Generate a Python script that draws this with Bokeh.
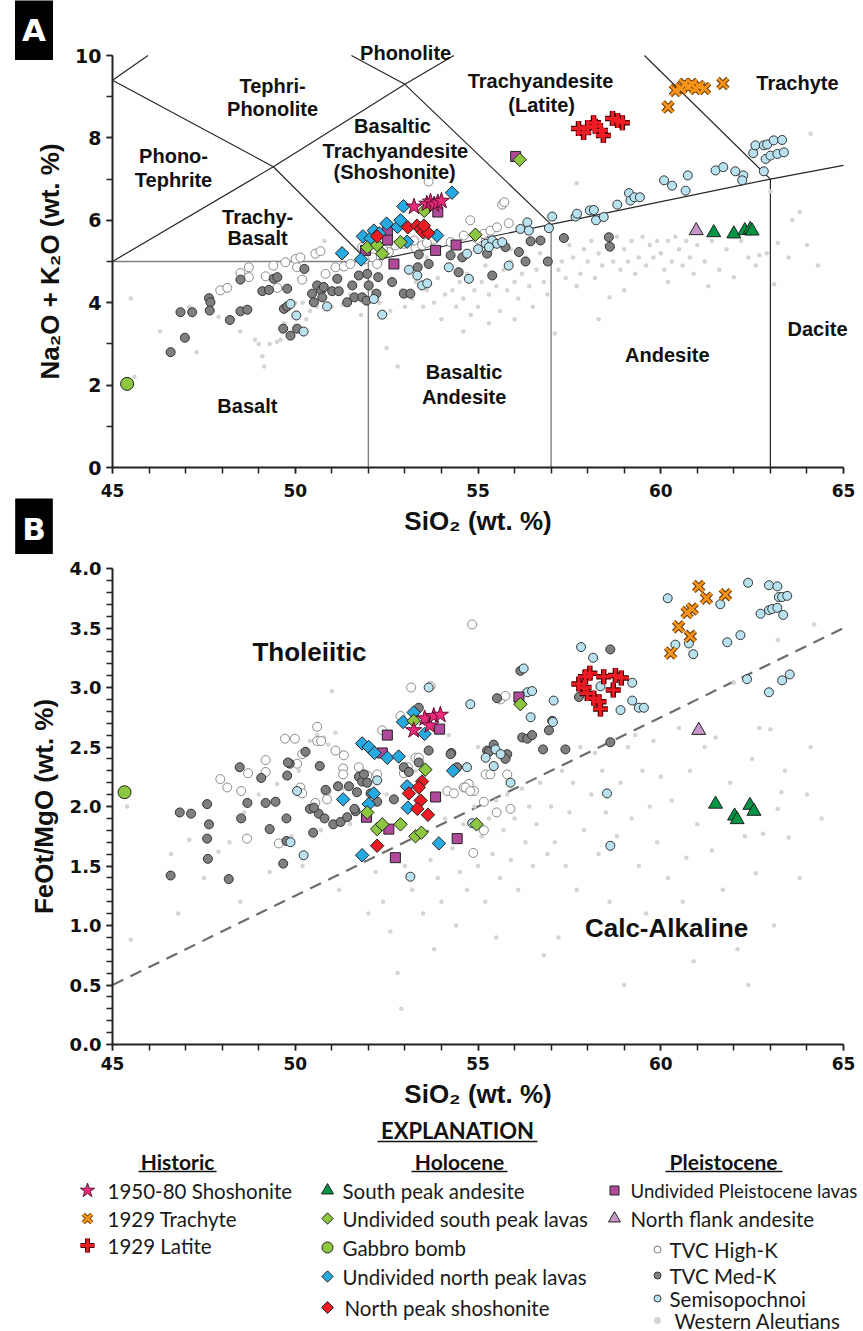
import numpy as np
from bokeh.plotting import figure
from bokeh.models import Range1d, SingleIntervalTicker, PrintfTickFormatter, Label
from bokeh.layouts import column
from bokeh.embed import file_html
from bokeh.resources import INLINE
from bokeh.core.properties import value

# ---------------------------------------------------------------
# Panel A data: SiO2 (wt. %) vs Na2O + K2O (wt. %)
# ---------------------------------------------------------------
tas_shosh_si = [53.25, 53.6, 53.7, 53.8, 53.9, 54.0]
tas_shosh_alk = [6.33, 6.40, 6.45, 6.38, 6.43, 6.47]

tas_trach_si = [60.2, 60.4, 60.55, 60.65, 60.75, 60.85, 60.95, 61.05, 61.2, 61.7]
tas_trach_alk = [8.75, 9.15, 9.2, 9.3, 9.25, 9.3, 9.2, 9.25, 9.2, 9.32]

tas_lat_si = [57.75, 57.89, 58.0, 58.16, 58.21, 58.35, 58.43, 58.68, 58.82, 58.95]
tas_lat_alk = [8.23, 8.13, 8.25, 8.37, 8.28, 8.18, 8.06, 8.47, 8.42, 8.37]

tas_spa_si = [61.45, 62.0, 62.3, 62.45, 62.5]
tas_spa_alk = [5.70, 5.67, 5.75, 5.78, 5.74]

tas_sp_si = [51.97, 52.24, 52.38, 52.88, 53.53, 54.93, 56.14]
tas_sp_alk = [5.34, 5.40, 5.19, 5.47, 6.23, 5.65, 7.47]

tas_gab_si = [45.4]
tas_gab_alk = [2.03]

tas_np_si = [51.28, 51.8, 51.85, 52.06, 52.15, 52.5, 52.8, 52.96, 53.06, 53.88, 54.29, 52.3, 52.88]
tas_np_alk = [5.20, 5.05, 5.61, 5.56, 5.75, 5.92, 5.84, 6.34, 5.48, 5.63, 6.67, 5.68, 6.00]

tas_nps_si = [52.24, 53.08, 53.33, 53.43, 53.50, 53.64, 53.52]
tas_nps_alk = [5.61, 5.83, 5.87, 5.79, 5.71, 5.69, 5.87]

tas_pl_si = [51.92, 52.52, 52.52, 52.70, 53.84, 54.40, 53.90, 56.03]
tas_pl_alk = [5.27, 5.73, 5.52, 4.94, 5.27, 5.40, 6.20, 7.55]

tas_nfa_si = [60.97]
tas_nfa_alk = [5.75]

tas_hik_si = [47.95, 48.14, 48.50, 48.73, 48.73, 49.19, 49.51, 49.73, 50.01, 50.05, 50.19, 50.55,
              50.69, 50.83, 51.10, 51.33, 51.51, 51.83, 52.11, 52.24, 52.56, 52.74, 52.97, 53.29,
              53.47, 53.65, 53.25, 53.79, 54.25, 54.61, 54.79, 54.98, 55.16, 55.34, 55.52, 55.66,
              55.72, 55.84, 50.14, 49.40, 51.90, 52.40, 53.60]
tas_hik_alk = [4.30, 4.36, 4.72, 4.86, 4.62, 4.64, 4.36, 4.98, 5.06, 4.86, 4.56, 5.19,
               5.25, 4.70, 4.86, 4.88, 4.94, 5.35, 5.10, 4.94, 5.23, 5.39, 5.43, 5.33,
               5.39, 6.94, 5.51, 5.53, 5.47, 5.63, 6.00, 5.55, 5.67, 5.75, 5.83, 6.38,
               6.44, 5.93, 5.10, 4.90, 5.05, 5.30, 5.45]

tas_medk_si = [46.59, 46.86, 46.98, 47.18, 47.64, 47.68, 47.66, 48.21, 48.50, 48.69, 48.50, 49.10,
               49.28, 49.41, 49.51, 49.67, 49.69, 49.78, 49.78, 49.87, 50.05, 50.25, 50.46, 50.51,
               50.60, 50.71, 50.74, 50.78, 51.01, 51.15, 51.19, 51.42, 51.56, 51.62, 51.74, 51.83,
               51.95, 51.97, 52.01, 52.22, 52.27, 52.65, 52.97, 53.15, 53.35, 53.38, 53.65, 54.25,
               54.47, 54.57, 55.25, 55.39, 55.75, 56.12, 56.30, 56.44, 56.71, 56.91, 57.35, 58.58,
               58.61]
tas_medk_alk = [2.80, 3.77, 3.15, 3.77, 4.11, 4.01, 3.81, 3.58, 3.79, 3.83, 4.56, 4.28,
                4.31, 4.58, 4.62, 3.37, 3.85, 3.91, 4.34, 3.20, 3.37, 4.82, 4.22, 4.01,
                4.42, 4.30, 4.13, 4.38, 4.28, 4.58, 4.28, 4.01, 4.42, 4.13, 4.66, 4.13,
                4.05, 4.70, 4.42, 4.22, 4.62, 4.50, 4.22, 4.22, 4.86, 5.17, 4.94, 5.15,
                4.74, 5.10, 5.19, 4.66, 5.35, 5.23, 5.00, 5.49, 5.51, 5.00, 5.57, 5.59,
                5.36]

tas_semi_si = [49.87, 50.03, 50.23, 50.87, 52.15, 52.38, 53.11, 53.34, 53.47, 53.61, 54.20, 54.70,
               54.75, 55.21, 55.39, 55.52, 55.66, 55.84, 56.16, 56.35, 56.39, 56.94, 57.03, 57.67,
               57.71, 58.06, 58.17, 58.23, 58.44, 58.81, 59.13, 59.17, 59.28, 59.43, 60.09, 60.31,
               60.68, 60.74, 61.50, 61.71, 62.04, 62.26, 62.23, 62.82, 62.53, 62.59, 62.82, 62.91,
               63.09, 63.32, 62.87, 63.00, 63.19, 63.37, 55.00, 55.30]
tas_semi_alk = [3.97, 3.69, 3.30, 3.91, 4.09, 3.71, 4.80, 4.66, 4.42, 4.47, 4.86, 5.19,
                4.58, 5.43, 5.51, 5.43, 5.47, 4.90, 5.79, 5.95, 5.75, 5.81, 6.09, 6.09,
                6.16, 6.24, 6.25, 6.00, 6.08, 6.38, 6.66, 6.48, 6.56, 6.56, 6.97, 6.84,
                6.72, 7.09, 7.21, 7.29, 7.19, 7.09, 6.97, 7.19, 7.63, 7.82, 7.82, 7.84,
                7.94, 7.95, 7.49, 7.57, 7.61, 7.65, 5.30, 5.35]

tas_wa_si = [45.5, 45.6, 46.3, 47.1, 47.3, 47.9, 48.5, 48.9, 49.0, 49.1, 49.15, 49.3, 49.5, 49.6,
             49.9, 50.0, 50.2, 50.4, 50.6, 50.7, 50.85, 51.0, 51.3, 51.5, 51.7, 50.8, 49.7, 50.3,
             51.8, 51.1,
             52.1, 52.3, 52.5, 52.8, 52.6, 52.9, 53.0, 53.2, 53.3, 53.5, 53.6, 53.8, 53.9, 54.0,
             54.1, 54.2, 54.3, 54.4, 54.5, 54.6, 54.7, 54.8, 54.9, 55.0, 55.1, 55.2, 55.3, 55.4,
             55.5, 55.6, 55.7, 55.8, 55.9, 56.0, 56.1, 56.2, 56.3, 56.4, 56.5, 56.6, 56.7, 56.8,
             56.9, 55.3, 54.6, 56.0, 53.6, 55.9,
             57.1, 57.2, 57.3, 57.4, 57.5, 57.6, 57.7, 57.8, 57.9, 58.0, 58.1, 58.2, 58.3, 58.4,
             58.5, 58.6, 58.7, 58.8, 58.9, 59.0, 59.1, 59.2, 59.3, 59.4, 59.5, 59.6, 59.7, 59.8,
             59.9, 60.0, 60.1, 60.2, 60.3, 60.4, 60.5, 60.6, 60.7, 60.8, 60.9, 61.0, 61.2, 61.4,
             61.6, 61.8, 62.0, 62.2, 62.4, 62.6, 62.7, 62.9, 57.7, 58.3, 59.0, 60.2, 61.3,
             63.2, 63.6, 63.8, 64.0, 64.1, 63.1, 63.0, 64.3, 63.5]
tas_wa_alk = [4.1, 2.2, 3.3, 3.9, 2.8, 3.65, 3.3, 3.1, 3.0, 2.7, 2.45, 3.0, 3.05, 3.1,
              4.05, 4.0, 4.0, 3.8, 3.9, 4.1, 4.4, 3.9, 3.95, 4.2, 4.1, 5.5, 3.5, 3.6,
              3.7, 4.6,
              4.3, 4.0, 2.9, 2.45, 3.8, 4.3, 3.9, 4.1, 4.5, 3.9, 4.3, 4.0, 4.6, 3.6,
              4.2, 4.8, 4.3, 3.9, 4.5, 4.1, 4.7, 3.7, 4.3, 3.9, 4.5, 4.9, 4.2, 4.6,
              4.4, 3.8, 4.8, 4.3, 5.0, 4.5, 4.1, 4.7, 5.1, 4.4, 3.9, 4.8, 5.2, 4.5,
              4.2, 3.5, 3.3, 3.6, 5.1, 5.3,
              3.25, 4.8, 5.0, 4.6, 5.4, 5.1, 6.9, 4.7, 5.3, 5.0, 5.5, 4.6, 5.2, 4.9,
              5.4, 4.13, 5.0, 5.6, 4.8, 5.3, 5.0, 5.5, 4.7, 5.1, 5.6, 4.9, 5.4, 5.1,
              5.5, 5.2, 4.8, 5.5, 5.0, 5.6, 5.3, 4.9, 5.5, 5.1, 4.7, 5.4, 5.0, 5.5,
              4.8, 5.3, 4.62, 5.5, 5.1, 4.9, 5.15, 5.2, 4.4, 3.6, 4.3, 4.5, 4.4,
              5.45, 6.0, 6.2, 5.4, 8.1, 4.45, 6.7, 4.9, 5.1]

# TAS field boundaries (Le Bas et al., 1986)
tas_dark_lines = [
    ([45.0, 49.4, 52.0], [9.4, 7.3, 5.0]),
    ([45.0, 48.4], [9.4, 11.5]),
    ([45.0, 49.4, 53.0, 57.6], [5.0, 7.3, 9.3, 11.7]),
    ([48.4, 53.0, 57.0], [11.5, 9.3, 5.9]),
    ([52.5, 57.6, 63.0], [14.0, 11.7, 7.0]),
    ([52.0, 57.0, 63.0, 69.0], [5.0, 5.9, 7.0, 8.0]),
    ([63.0, 63.0], [0.0, 7.0]),
]
tas_grey_lines = [
    ([45.0, 52.0], [5.0, 5.0]),
    ([52.0, 52.0], [0.0, 5.0]),
    ([57.0, 57.0], [0.0, 5.9]),
]

tas_field_names = ["Phonolite", "Tephri-", "Phonolite", "Phono-", "Tephrite", "Trachy-", "Basalt",
                   "Basalt", "Basaltic", "Trachyandesite", "(Shoshonite)", "Trachyandesite",
                   "(Latite)", "Trachyte", "Dacite", "Andesite", "Basaltic", "Andesite"]
tas_field_x = [53.02, 49.38, 49.38, 46.67, 46.67, 48.97, 48.97, 48.69, 52.66, 52.74, 52.72,
               56.71, 56.74, 63.74, 64.29, 60.18, 54.62, 54.62]
tas_field_y = [10.07, 9.27, 8.71, 7.55, 6.97, 6.09, 5.56, 1.50, 8.28, 7.69, 7.18,
               9.39, 8.81, 9.34, 3.37, 2.72, 2.31, 1.72]

# ---------------------------------------------------------------
# Panel B data: SiO2 (wt. %) vs FeOt/MgO
# ---------------------------------------------------------------
fm_shosh_si = [53.24, 53.54, 53.68, 53.79, 53.97]
fm_shosh_r = [2.64, 2.74, 2.68, 2.76, 2.77]

fm_trach_si = [60.27, 60.49, 60.81, 60.72, 60.86, 61.04, 61.25, 61.77]
fm_trach_r = [3.29, 3.51, 3.43, 3.63, 3.66, 3.85, 3.75, 3.78]

fm_lat_si = [57.76, 57.90, 57.94, 58.06, 57.99, 58.17, 58.31, 58.35, 58.44, 58.70, 58.76, 58.92]
fm_lat_r = [3.03, 3.00, 3.09, 3.12, 2.95, 2.91, 2.88, 2.82, 3.09, 2.98, 3.10, 3.08]

fm_spa_si = [61.50, 62.02, 62.09, 62.44, 62.55]
fm_spa_r = [2.02, 1.92, 1.89, 2.01, 1.96]

fm_sp_si = [53.24, 53.56, 51.97, 52.24, 52.38, 52.88, 53.29, 53.45, 54.96, 56.16]
fm_sp_r = [2.72, 2.31, 1.95, 1.81, 1.85, 1.85, 1.75, 1.78, 1.85, 2.86]

fm_gab_si = [45.33]
fm_gab_r = [2.12]

fm_np_si = [51.83, 52.01, 52.17, 52.52, 52.83, 52.95, 53.24, 53.54, 51.31, 52.15, 52.01, 53.06,
            53.08, 53.93, 54.32, 51.83]
fm_np_r = [2.53, 2.50, 2.45, 2.41, 2.42, 2.71, 2.79, 2.61, 2.06, 2.11, 2.02, 2.17,
           1.99, 1.69, 2.30, 1.59]

fm_nps_si = [53.47, 53.38, 53.11, 53.43, 53.34, 53.63, 52.24]
fm_nps_r = [2.21, 2.16, 2.11, 2.05, 1.98, 1.93, 1.67]

fm_pl_si = [52.52, 52.38, 53.84, 51.95, 52.56, 54.43, 52.74, 53.95, 56.12]
fm_pl_r = [2.60, 2.45, 2.08, 1.91, 1.81, 1.73, 1.57, 2.65, 2.92]

fm_nfa_si = [61.04]
fm_nfa_r = [2.64]

fm_hik_si = [49.72, 49.99, 50.60, 50.60, 50.71, 51.10, 51.33, 49.19, 50.19, 50.05, 48.71, 47.95,
             48.14, 48.52, 50.55, 50.85, 50.87, 51.31, 51.31, 52.97, 53.08, 53.29, 53.38, 53.17,
             53.70, 54.84, 52.38, 52.88, 54.16, 54.61, 54.75, 54.89, 55.16, 55.51, 55.21, 55.34,
             54.87, 48.68, 49.55, 55.62, 55.75, 54.66, 54.79, 54.34, 55.80, 55.89, 55.16, 51.74,
             51.97, 52.24, 50.14, 50.19, 49.19]
fm_hik_r = [2.57, 2.57, 2.67, 2.55, 2.55, 2.47, 2.43, 2.39, 2.44, 2.36, 2.28, 2.23,
            2.16, 2.13, 2.03, 2.13, 2.06, 2.32, 2.27, 2.28, 2.33, 2.41, 2.41, 3.00,
            3.01, 3.53, 2.64, 2.76, 2.13, 2.16, 2.19, 2.13, 2.04, 1.95, 2.27, 2.27,
            1.61, 1.73, 1.69, 2.90, 2.93, 2.16, 2.13, 2.11, 2.27, 1.98, 1.80, 2.33,
            2.26, 2.27, 2.16, 2.11, 2.29]

fm_medk_si = [46.59, 46.84, 47.15, 47.59, 47.64, 47.59, 47.61, 48.18, 48.48, 48.52, 48.69, 49.07,
              49.19, 49.30, 49.46, 49.76, 49.78, 49.76, 49.67, 49.85, 50.28, 50.40, 50.49, 50.67,
              50.64, 50.83, 51.04, 51.17, 51.24, 51.47, 51.65, 51.74, 51.83, 51.88, 51.97, 52.06,
              52.24, 52.97, 53.11, 53.38, 53.38, 53.65, 49.80, 51.69, 52.70, 54.27, 55.43, 55.25,
              55.52, 51.42, 51.62, 50.80, 50.51, 56.16, 58.62, 55.30, 55.80, 55.75, 56.21, 56.35,
              56.48, 56.94, 57.03, 56.78, 57.39, 58.62, 54.25, 54.43, 57.76]
fm_medk_r = [1.42, 1.95, 1.94, 2.02, 1.85, 1.73, 1.56, 1.39, 2.33, 1.90, 2.03, 2.24,
             2.03, 1.81, 2.04, 1.90, 2.26, 1.71, 1.52, 2.36, 2.46, 1.98, 1.78, 2.34,
             1.94, 2.14, 1.85, 2.17, 1.87, 2.17, 1.96, 2.25, 2.21, 2.27, 2.20, 2.11,
             2.04, 2.33, 2.29, 2.37, 2.83, 2.47, 2.37, 2.12, 2.06, 2.45, 2.52, 2.47,
             2.91, 1.91, 1.98, 1.90, 1.99, 3.14, 3.32, 2.46, 2.44, 2.40, 2.58, 2.57,
             2.60, 2.64, 2.72, 2.48, 2.48, 2.54, 2.44, 2.33, 2.92]

fm_semi_si = [57.82, 58.15, 60.19, 61.63, 61.82, 62.18, 60.40, 60.77, 60.89, 62.39, 62.96, 63.19,
              63.23, 63.32, 63.46, 62.73, 62.96, 63.05, 63.19, 63.35, 62.36, 62.96, 63.32, 63.53,
              59.22, 59.22, 59.40, 59.54, 58.90, 58.35, 57.07, 57.05, 56.44, 56.25, 56.35, 56.48,
              54.79, 55.48, 55.62, 55.21, 55.43, 54.70, 55.89, 58.53, 58.62, 54.84, 50.05, 50.23,
              49.87, 52.24, 53.15, 53.65]
fm_semi_r = [3.34, 3.25, 3.75, 3.70, 3.38, 3.44, 3.36, 3.37, 3.28, 3.88, 3.86, 3.85,
             3.76, 3.76, 3.77, 3.62, 3.65, 3.66, 3.67, 3.61, 3.07, 2.96, 3.06, 3.11,
             3.04, 2.89, 2.83, 2.83, 2.81, 3.01, 2.89, 2.71, 2.75, 3.16, 2.96, 2.97,
             2.86, 2.48, 2.44, 2.41, 2.34, 2.33, 2.20, 2.11, 1.67, 1.86, 2.13, 1.59,
             1.70, 2.22, 1.41, 3.00]

fm_wa_si = [45.4, 45.5, 46.6, 47.1, 47.9, 48.2, 48.6, 49.0, 49.5, 49.7, 49.9, 50.1, 50.4, 50.6,
            50.8, 50.9, 51.0, 51.1, 50.7, 51.3, 51.5, 51.8, 51.2, 50.2, 49.3, 48.5, 47.5, 46.8,
            51.9, 52.0,
            52.2, 52.4, 52.6, 52.8, 52.9, 53.0, 53.2, 53.4, 53.5, 53.7, 53.9, 54.0, 54.1, 54.3,
            54.4, 54.5, 54.6, 54.7, 54.8, 54.9, 55.0, 55.1, 55.2, 55.3, 55.4, 55.5, 55.6, 55.7,
            55.8, 55.9, 56.0, 56.1, 56.2, 56.3, 56.4, 56.5, 56.6, 56.7, 56.8, 56.9, 53.3, 54.2,
            55.0, 52.5, 53.8, 55.5,
            57.0, 57.1, 57.2, 57.3, 57.4, 57.5, 57.6, 57.7, 57.8, 57.9, 58.0, 58.1, 58.2, 58.3,
            58.4, 58.5, 58.6, 58.7, 58.8, 58.9, 59.0, 59.1, 59.2, 59.3, 59.4, 59.5, 59.6, 59.7,
            59.8, 59.9, 60.0, 60.2, 60.3, 60.5, 60.6, 60.7, 60.8, 61.0, 61.2, 61.4, 61.5, 61.7,
            61.9, 62.0, 62.1, 62.3, 62.5, 62.6, 62.7, 62.8, 63.0, 63.1, 63.2, 63.3, 63.4, 63.5,
            63.8, 64.0, 64.1, 64.2, 63.2, 64.4, 62.4, 60.9]
fm_wa_r = [2.0, 0.88, 1.6, 1.72, 1.62, 1.7, 1.95, 2.1, 2.19, 2.25, 1.75, 2.3, 2.55, 2.6,
           2.58, 2.52, 2.97, 2.62, 1.8, 2.15, 1.85, 1.6, 1.3, 1.5, 1.45, 1.2, 1.4, 1.1,
           2.5, 1.1,
           1.45, 1.2, 0.95, 0.6, 0.3, 1.5, 1.3, 1.75, 1.1, 1.55, 1.4, 1.2, 1.9, 1.65,
           1.0, 1.45, 1.85, 1.3, 1.6, 2.0, 1.5, 1.75, 1.2, 1.9, 1.6, 2.05, 1.4, 1.8,
           2.1, 1.55, 1.9, 1.3, 2.15, 1.7, 2.0, 1.5, 1.85, 2.2, 0.75, 1.6, 2.3, 2.6,
           2.5, 2.1, 0.8, 0.9,
           2.0, 1.7, 0.9, 2.3, 1.5, 1.95, 2.2, 1.3, 2.5, 1.8, 1.0, 2.1, 2.45, 1.6,
           2.3, 1.95, 1.2, 2.55, 1.75, 2.2, 0.5, 2.5, 1.9, 2.6, 1.5, 2.3, 1.1, 2.0,
           2.55, 1.7, 2.25, 1.4, 2.05, 2.66, 1.2, 1.57, 2.3, 1.85, 2.5, 1.63, 2.58, 1.3,
           2.2, 3.04, 0.8, 1.75, 2.4, 1.44, 2.66, 1.77, 2.65, 1.0, 1.98, 2.12, 2.3, 1.74,
           1.4, 2.1, 2.5, 3.53, 3.4, 1.9, 0.5, 0.7]

# Tholeiitic / calc-alkaline divide
divide_si = [45.0, 65.0]
divide_r = [0.5, 3.5]

# ---------------------------------------------------------------
# Page geometry (pixels) and styling
# ---------------------------------------------------------------
PAGE_W = 863
AXIS_X0_PX, AXIS_X1_PX = 112, 843          # where SiO2 = 45 and 65 fall
SI_MIN, SI_MAX = 45.0, 65.0
PX_PER_SI = (AXIS_X1_PX - AXIS_X0_PX) / (SI_MAX - SI_MIN)
X_RANGE = (SI_MIN - AXIS_X0_PX / PX_PER_SI, SI_MIN + (PAGE_W - AXIS_X0_PX) / PX_PER_SI)

A_H, A_ZERO_PX, A_PX_PER = 554, 467, 41.2      # panel A: height, y of 0, px per wt.%
B_TOP, B_H, B_ZERO_PX, B_PX_PER = 554, 561, 1044, 119.0
L_TOP, L_H = 1115, 216

C_PINK = "#ee2a7b"
C_ORANGE = "#f7941d"
C_RED = "#ed1c24"
C_DKGREEN = "#009444"
C_LTGREEN = "#8dc63f"
C_BLUE = "#27aae1"
C_PURPLE = "#b24a9c"
C_LILAC = "#c597c9"
C_MEDK = "#7f7f7f"
C_SEMI = "#b9e2f1"
C_WA = "#d4d4d4"
EDGE = "#222222"

TICK_FONT = "DejaVu Sans"
TITLE_FONT = "Liberation Sans"


def clip_segments(xs, ys, xmin, xmax, ymin, ymax):
    """Liang-Barsky clipping of a polyline against the plotting box."""
    out = []
    for (x0, y0, x1, y1) in zip(xs[:-1], ys[:-1], xs[1:], ys[1:]):
        dx, dy = x1 - x0, y1 - y0
        t0, t1 = 0.0, 1.0
        ok = True
        for pp, qq in ((-dx, x0 - xmin), (dx, xmax - x0), (-dy, y0 - ymin), (dy, ymax - y0)):
            if pp == 0:
                if qq < 0:
                    ok = False
                    break
            else:
                t = qq / pp
                if pp < 0:
                    t0 = max(t0, t)
                else:
                    t1 = min(t1, t)
        if ok and t0 <= t1:
            out.append((x0 + t0 * dx, y0 + t0 * dy, x0 + t1 * dx, y0 + t1 * dy))
    return out


def make_panel(height, y_lo, y_hi, y_bounds):
    p = figure(width=PAGE_W, height=height, x_range=Range1d(*X_RANGE),
               y_range=Range1d(y_lo, y_hi), output_backend="svg", toolbar_location=None,
               min_border_left=0, min_border_right=0, min_border_top=0, min_border_bottom=0)
    p.outline_line_color = None
    p.grid.visible = False
    p.background_fill_color = "white"
    p.border_fill_color = "white"
    for ax in (p.xaxis[0], p.yaxis[0]):
        ax.axis_line_width = 2
        ax.axis_line_color = "#222222"
        ax.major_tick_line_color = "#222222"
        ax.minor_tick_line_color = "#222222"
        ax.major_tick_line_width = 1.5
        ax.minor_tick_line_width = 1.5
        ax.major_tick_in = 0
        ax.minor_tick_in = 0
        ax.major_tick_out = 6
        ax.minor_tick_out = 6
        ax.major_label_text_font = TICK_FONT
        ax.major_label_text_font_style = "bold"
        ax.major_label_text_color = "#111111"
        ax.axis_label_text_font = TITLE_FONT
        ax.axis_label_text_font_style = "bold"
        ax.axis_label_text_font_size = "26px"
        ax.axis_label_text_color = "#111111"
    xa = p.xaxis[0]
    xa.fixed_location = 0
    xa.bounds = (SI_MIN, SI_MAX)
    xa.ticker = SingleIntervalTicker(interval=5, num_minor_ticks=5)
    xa.major_label_text_font_size = "17px"
    xa.axis_label = "SiO\u2082 (wt. %)"
    ya = p.yaxis[0]
    ya.fixed_location = SI_MIN
    ya.bounds = y_bounds
    return p


def diamonds(p, x, y, fill, size=9.5):
    p.scatter(x, y, marker="square", angle=np.pi / 4, size=size,
              fill_color=fill, line_color=EDGE, line_width=1)


def group_points(p, d):
    p.scatter(d["wa"][0], d["wa"][1], marker="circle", size=4.5, fill_color=C_WA, line_color=None)
    p.scatter(d["hik"][0], d["hik"][1], marker="circle", size=9, fill_color="white",
              line_color="#8a8a8a", line_width=1)
    p.scatter(d["medk"][0], d["medk"][1], marker="circle", size=9, fill_color=C_MEDK,
              line_color="#333333", line_width=1)
    p.scatter(d["semi"][0], d["semi"][1], marker="circle", size=9, fill_color=C_SEMI,
              line_color="#333333", line_width=1)
    p.scatter(d["pl"][0], d["pl"][1], marker="square", size=10, fill_color=C_PURPLE,
              line_color=EDGE, line_width=1)
    p.scatter(d["nfa"][0], d["nfa"][1], marker="triangle", size=14, fill_color=C_LILAC,
              line_color=EDGE, line_width=1)
    p.scatter(d["spa"][0], d["spa"][1], marker="triangle", size=14, fill_color=C_DKGREEN,
              line_color=EDGE, line_width=1)
    diamonds(p, d["np"][0], d["np"][1], C_BLUE)
    diamonds(p, d["sp"][0], d["sp"][1], C_LTGREEN)
    diamonds(p, d["nps"][0], d["nps"][1], C_RED)
    p.scatter(d["shosh"][0], d["shosh"][1], marker="star", size=17, fill_color=C_PINK,
              line_color="#5a1030", line_width=1)
    p.scatter(d["trach"][0], d["trach"][1], marker="x", size=14, line_color="#6b3b00", line_width=5)
    p.scatter(d["trach"][0], d["trach"][1], marker="x", size=14, line_color=C_ORANGE, line_width=2.8)
    p.scatter(d["lat"][0], d["lat"][1], marker="cross", size=15, line_color="#4a0000", line_width=5.5)
    p.scatter(d["lat"][0], d["lat"][1], marker="cross", size=15, line_color=C_RED, line_width=3)
    p.scatter(d["gab"][0], d["gab"][1], marker="circle", size=13, fill_color=C_LTGREEN,
              line_color=EDGE, line_width=1)


def panel_tag(p, letter, cx, cy):
    p.add_layout(Label(x=cx, y=cy, text=letter, text_color="white", text_font=TICK_FONT,
                       text_font_size="31px", text_font_style="bold",
                       text_align="center", text_baseline="middle",
                       background_fill_color="black", padding=(7, 12)))


def page_to_si(px):
    return SI_MIN + (px - AXIS_X0_PX) / PX_PER_SI


# ---------------- Panel A ----------------
pa = make_panel(A_H, (A_ZERO_PX - A_H) / A_PX_PER, A_ZERO_PX / A_PX_PER, (0, 10))
pa.yaxis[0].ticker = SingleIntervalTicker(interval=2, num_minor_ticks=2)
pa.yaxis[0].major_label_text_font_size = "19px"
pa.yaxis[0].axis_label = "Na\u2082O + K\u2082O (wt. %)"
pa.yaxis[0].axis_label_standoff = 7
pa.xaxis[0].major_label_standoff = 10
pa.xaxis[0].axis_label_standoff = 6

for lines, colour, width in ((tas_grey_lines, "#808080", 1.4), (tas_dark_lines, "#262626", 1.2)):
    segs = []
    for xs, ys in lines:
        segs += clip_segments(xs, ys, SI_MIN, SI_MAX, 0.0, 10.0)
    pa.segment(x0=[s[0] for s in segs], y0=[s[1] for s in segs],
               x1=[s[2] for s in segs], y1=[s[3] for s in segs],
               line_color=colour, line_width=width)

group_points(pa, {
    "wa": (tas_wa_si, tas_wa_alk), "hik": (tas_hik_si, tas_hik_alk),
    "medk": (tas_medk_si, tas_medk_alk), "semi": (tas_semi_si, tas_semi_alk),
    "pl": (tas_pl_si, tas_pl_alk), "nfa": (tas_nfa_si, tas_nfa_alk),
    "spa": (tas_spa_si, tas_spa_alk), "np": (tas_np_si, tas_np_alk),
    "sp": (tas_sp_si, tas_sp_alk), "nps": (tas_nps_si, tas_nps_alk),
    "shosh": (tas_shosh_si, tas_shosh_alk), "trach": (tas_trach_si, tas_trach_alk),
    "lat": (tas_lat_si, tas_lat_alk), "gab": (tas_gab_si, tas_gab_alk),
})

for name, fx, fy in zip(tas_field_names, tas_field_x, tas_field_y):
    pa.add_layout(Label(x=fx, y=fy, text=name, text_font=TITLE_FONT, text_font_size="20px",
                        text_font_style="bold", text_color="#111111",
                        text_align="center", text_baseline="middle"))

# panel tags: "A" above panel A, "B" just below panel A's axis title
panel_tag(pa, "A", page_to_si(33.5), (A_ZERO_PX - 29.5) / A_PX_PER)
panel_tag(pa, "B", page_to_si(33.5), (A_ZERO_PX - 528) / A_PX_PER)

# ---------------- Panel B ----------------
b_zero_local = B_ZERO_PX - B_TOP
pb = make_panel(B_H, -(B_H - b_zero_local) / B_PX_PER, b_zero_local / B_PX_PER, (0, 4))
pb.yaxis[0].ticker = SingleIntervalTicker(interval=0.5, num_minor_ticks=5)
pb.yaxis[0].formatter = PrintfTickFormatter(format="%.1f")
pb.yaxis[0].major_label_text_font_size = "18px"
pb.yaxis[0].axis_label = "FeOt/MgO (wt. %)"
pb.yaxis[0].axis_label_standoff = 8
pb.xaxis[0].major_label_standoff = 6
pb.xaxis[0].axis_label_standoff = 6

pb.line(divide_si, divide_r, line_color="#6d6d6d", line_width=2.2, line_dash="12 8")

group_points(pb, {
    "wa": (fm_wa_si, fm_wa_r), "hik": (fm_hik_si, fm_hik_r),
    "medk": (fm_medk_si, fm_medk_r), "semi": (fm_semi_si, fm_semi_r),
    "pl": (fm_pl_si, fm_pl_r), "nfa": (fm_nfa_si, fm_nfa_r),
    "spa": (fm_spa_si, fm_spa_r), "np": (fm_np_si, fm_np_r),
    "sp": (fm_sp_si, fm_sp_r), "nps": (fm_nps_si, fm_nps_r),
    "shosh": (fm_shosh_si, fm_shosh_r), "trach": (fm_trach_si, fm_trach_r),
    "lat": (fm_lat_si, fm_lat_r), "gab": (fm_gab_si, fm_gab_r),
})

pb.add_layout(Label(x=50.39, y=3.30, text="Tholeiitic", text_font=TITLE_FONT,
                    text_font_size="26px", text_font_style="bold", text_color="#111111",
                    text_align="center", text_baseline="middle"))
pb.add_layout(Label(x=60.16, y=0.98, text="Calc-Alkaline", text_font=TITLE_FONT,
                    text_font_size="26px", text_font_style="bold", text_color="#111111",
                    text_align="center", text_baseline="middle"))

# ---------------- Explanation ----------------
pl = figure(width=PAGE_W, height=L_H, x_range=Range1d(0, PAGE_W),
            y_range=Range1d(L_TOP + L_H, L_TOP),
            output_backend="svg", toolbar_location=None,
            min_border_left=0, min_border_right=0, min_border_top=0, min_border_bottom=0,
            x_axis_location=None, y_axis_location=None)
pl.grid.visible = False
pl.outline_line_color = None

LEG_FONT = value("Lato")

head_text = ["EXPLANATION", "Historic", "Holocene", "Pleistocene"]
head_x = [457, 177, 459, 723]
head_y = [1130, 1161, 1161, 1161]
head_size = ["22px", "21px", "21px", "21px"]
under_x0 = [377, 138, 411, 665]
under_x1 = [537, 216, 507, 782]
under_y = [1141, 1171, 1171, 1171]

for t, hx, hy, hs in zip(head_text, head_x, head_y, head_size):
    pl.text(x=[hx], y=[hy], text=[t], text_font=LEG_FONT, text_font_size=hs,
            text_font_style="bold", text_color="#111111", text_align="center",
            text_baseline="middle")
pl.segment(x0=under_x0, y0=under_y, x1=under_x1, y1=under_y, line_color="#111111", line_width=1.6)

leg_text = ["1950-80 Shoshonite", "1929 Trachyte", "1929 Latite",
            "South peak andesite", "Undivided south peak lavas", "Gabbro bomb",
            "Undivided north peak lavas", "North peak shoshonite",
            "Undivided Pleistocene lavas", "North flank andesite",
            "TVC High-K", "TVC Med-K", "Semisopochnoi", "Western Aleutians"]
leg_tx = [107, 107, 107, 342, 342, 342, 342, 344, 630, 630, 669, 669, 669, 674]
leg_ty = [1190, 1218, 1245, 1190, 1218, 1247, 1276, 1307, 1190, 1218, 1249, 1275, 1298, 1320]
leg_size = ["20.5px"] * 8 + ["18.6px"] + ["20.5px"] * 5
pl.text(x=leg_tx, y=leg_ty, text=leg_text, text_font=LEG_FONT, text_font_size=leg_size,
        text_color="#1a1a1a", text_align="left", text_baseline="middle")

pl.scatter([87], [1190], marker="star", size=15, fill_color=C_PINK, line_color="#5a1030")
pl.scatter([87], [1218], marker="x", size=12, line_color="#6b3b00", line_width=4.5)
pl.scatter([87], [1218], marker="x", size=12, line_color=C_ORANGE, line_width=2.5)
pl.scatter([87], [1245], marker="cross", size=14, line_color="#4a0000", line_width=5)
pl.scatter([87], [1245], marker="cross", size=14, line_color=C_RED, line_width=2.8)
pl.scatter([327], [1190], marker="triangle", size=12, fill_color=C_DKGREEN, line_color=EDGE)
pl.scatter([327], [1218], marker="square", angle=np.pi / 4, size=8, fill_color=C_LTGREEN, line_color=EDGE)
pl.scatter([327], [1247], marker="circle", size=11, fill_color=C_LTGREEN, line_color=EDGE)
pl.scatter([327], [1276], marker="square", angle=np.pi / 4, size=8, fill_color=C_BLUE, line_color=EDGE)
pl.scatter([327], [1307], marker="square", angle=np.pi / 4, size=8.5, fill_color=C_RED, line_color=EDGE)
pl.scatter([614], [1190], marker="square", size=9, fill_color=C_PURPLE, line_color=EDGE)
pl.scatter([614], [1218], marker="triangle", size=12, fill_color=C_LILAC, line_color=EDGE)
pl.scatter([657], [1249], marker="circle", size=7, fill_color="white", line_color="#777777")
pl.scatter([657], [1275], marker="circle", size=7, fill_color=C_MEDK, line_color="#333333")
pl.scatter([657], [1298], marker="circle", size=7, fill_color=C_SEMI, line_color="#333333")
pl.scatter([657], [1320], marker="circle", size=7, fill_color=C_WA, line_color=None)

page = column(pa, pb, pl)
open("out.html", "w").write(file_html(page, INLINE))
